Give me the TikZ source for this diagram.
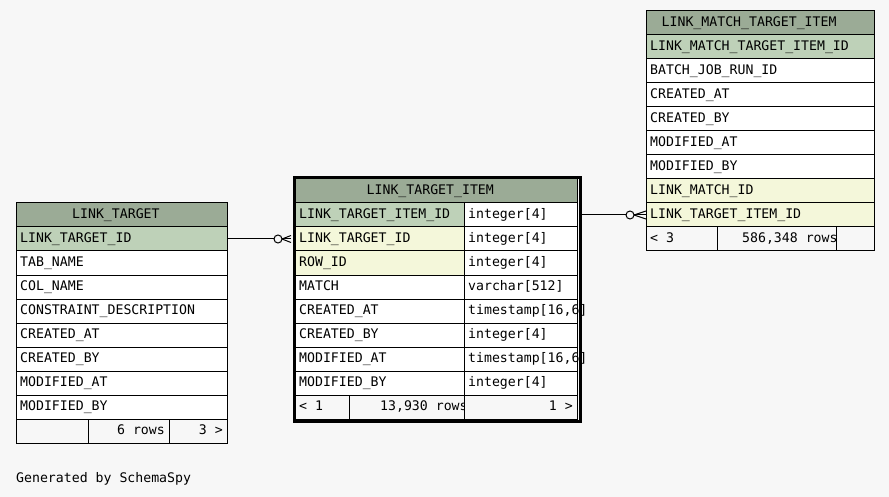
\documentclass[tikz,border=0pt]{standalone}
\usepackage{fontspec}
\setmonofont{DejaVu Sans Mono}
\definecolor{hdr}{HTML}{9BAB96}
\definecolor{pkc}{HTML}{BED1B8}
\definecolor{fkc}{HTML}{F4F7DA}
\definecolor{bgc}{HTML}{F7F7F7}
\tikzset{
  cellbox/.style={draw=black, line width=1pt, minimum height=24pt, inner sep=0pt, outer sep=0pt},
  celltext/.style={inner sep=0pt, anchor=base west, font=\ttfamily\fontsize{13.2}{14}\selectfont},
  celltextr/.style={inner sep=0pt, anchor=base east, font=\ttfamily\fontsize{13.2}{14}\selectfont},
  conn/.style={line width=1pt, draw=black},
}
% name, x, y, width, fill, text, text offset
\newcommand\tcell[7]{%
  \node[cellbox, fill=#5, minimum width=#4pt, anchor=north west] (#1) at (#2,#3) {};
  \begin{scope}
    \clip (#1.south west) rectangle (#1.north east);
    \node[celltext] at ([xshift=#7pt,yshift=8.5pt]#1.south west) {#6};
  \end{scope}}
% unclipped cell
\newcommand\ucell[6]{%
  \node[cellbox, fill=#5, minimum width=#4pt, anchor=north west] (#1) at (#2,#3) {};
  \node[celltext] at ([xshift=4pt,yshift=8.5pt]#1.south west) {#6};}
\newcommand\rcell[6]{%
  \node[cellbox, fill=#5, minimum width=#4pt, anchor=north west] (#1) at (#2,#3) {};
  \node[celltextr] at ([xshift=-4pt,yshift=8.5pt]#1.south east) {#6};}
\begin{document}
\begin{tikzpicture}[x=1pt, y=-1pt]
\fill[bgc] (0,0) rectangle (889,497);
\useasboundingbox (0,0) rectangle (889,497);

% ---------- LINK_TARGET ----------
\tcell{lt-h}{16}{203}{211}{hdr}{LINK\_TARGET}{56}
\tcell{lt-r1}{16}{227}{211}{pkc}{LINK\_TARGET\_ID}{4}
\tcell{lt-r2}{16}{251}{211}{white}{TAB\_NAME}{4}
\tcell{lt-r3}{16}{275}{211}{white}{COL\_NAME}{4}
\tcell{lt-r4}{16}{299}{211}{white}{CONSTRAINT\_DESCRIPTION}{4}
\tcell{lt-r5}{16}{323}{211}{white}{CREATED\_AT}{4}
\tcell{lt-r6}{16}{347}{211}{white}{CREATED\_BY}{4}
\tcell{lt-r7}{16}{371}{211}{white}{MODIFIED\_AT}{4}
\tcell{lt-r8}{16}{395}{211}{white}{MODIFIED\_BY}{4}
\tcell{lt-f1}{16}{419}{72}{bgc}{}{4}
\rcell{lt-f2}{88}{419}{81}{bgc}{6 rows}
\rcell{lt-f3}{169}{419}{58}{bgc}{3 >}

% ---------- LINK_TARGET_ITEM ----------
\tcell{lti-h}{295}{179}{282}{hdr}{LINK\_TARGET\_ITEM}{71.5}
\tcell{lti-r1}{295}{203}{169}{pkc}{LINK\_TARGET\_ITEM\_ID}{4}
\ucell{lti-t1}{464}{203}{113}{white}{integer[4]}
\tcell{lti-r2}{295}{227}{169}{fkc}{LINK\_TARGET\_ID}{4}
\ucell{lti-t2}{464}{227}{113}{white}{integer[4]}
\tcell{lti-r3}{295}{251}{169}{fkc}{ROW\_ID}{4}
\ucell{lti-t3}{464}{251}{113}{white}{integer[4]}
\tcell{lti-r4}{295}{275}{169}{white}{MATCH}{4}
\ucell{lti-t4}{464}{275}{113}{white}{varchar[512]}
\tcell{lti-r5}{295}{299}{169}{white}{CREATED\_AT}{4}
\ucell{lti-t5}{464}{299}{113}{white}{timestamp[16,6]}
\tcell{lti-r6}{295}{323}{169}{white}{CREATED\_BY}{4}
\ucell{lti-t6}{464}{323}{113}{white}{integer[4]}
\tcell{lti-r7}{295}{347}{169}{white}{MODIFIED\_AT}{4}
\ucell{lti-t7}{464}{347}{113}{white}{timestamp[16,6]}
\tcell{lti-r8}{295}{371}{169}{white}{MODIFIED\_BY}{4}
\ucell{lti-t8}{464}{371}{113}{white}{integer[4]}
\tcell{lti-f1}{295}{395}{54}{bgc}{< 1}{4}
\tcell{lti-f2}{349}{395}{115}{bgc}{13,930 rows}{31}
\rcell{lti-f3}{464}{395}{113}{bgc}{1 >}
\node[draw=black, line width=3pt, inner sep=0pt, minimum width=286pt, minimum height=243pt, anchor=north west] (lti-frame) at (292.5,176.5) {};

% ---------- LINK_MATCH_TARGET_ITEM ----------
\tcell{lm-h}{646}{11}{228}{hdr}{LINK\_MATCH\_TARGET\_ITEM}{15.5}
\tcell{lm-r1}{646}{35}{228}{pkc}{LINK\_MATCH\_TARGET\_ITEM\_ID}{4}
\tcell{lm-r2}{646}{59}{228}{white}{BATCH\_JOB\_RUN\_ID}{4}
\tcell{lm-r3}{646}{83}{228}{white}{CREATED\_AT}{4}
\tcell{lm-r4}{646}{107}{228}{white}{CREATED\_BY}{4}
\tcell{lm-r5}{646}{131}{228}{white}{MODIFIED\_AT}{4}
\tcell{lm-r6}{646}{155}{228}{white}{MODIFIED\_BY}{4}
\tcell{lm-r7}{646}{179}{228}{fkc}{LINK\_MATCH\_ID}{4}
\tcell{lm-r8}{646}{203}{228}{fkc}{LINK\_TARGET\_ITEM\_ID}{4}
\tcell{lm-f1}{646}{227}{71}{bgc}{< 3}{4}
\tcell{lm-f2}{717}{227}{119}{bgc}{586,348 rows}{25}
\tcell{lm-f3}{836}{227}{38}{bgc}{}{4}

% ---------- connectors ----------
\coordinate (c1) at ([xshift=-17pt]lti-r2.west);
\coordinate (c1t) at ([xshift=-4pt]lti-r2.west);
\draw[conn] (lt-r1.east) -- ([xshift=-4pt]c1);
\draw[conn] (c1) circle[radius=4pt];
\draw[conn] ([xshift=4pt]c1) -- ([yshift=3.5pt]c1t);
\draw[conn] ([xshift=4pt]c1) -- (c1t);
\draw[conn] ([xshift=4pt]c1) -- ([yshift=-3.5pt]c1t);

\coordinate (c2) at ([xshift=-16pt]lm-r8.west);
\draw[conn] (lti-frame.east |- lti-r1.east) -- ([xshift=-4pt]c2);
\draw[conn] (c2) circle[radius=4pt];
\draw[conn] ([xshift=4pt]c2) -- ([yshift=4pt]lm-r8.west);
\draw[conn] ([xshift=4pt]c2) -- (lm-r8.west);
\draw[conn] ([xshift=4pt]c2) -- ([yshift=-4pt]lm-r8.west);

\node[celltext] (gen) at (16,482) {Generated by SchemaSpy};
\end{tikzpicture}
\end{document}
